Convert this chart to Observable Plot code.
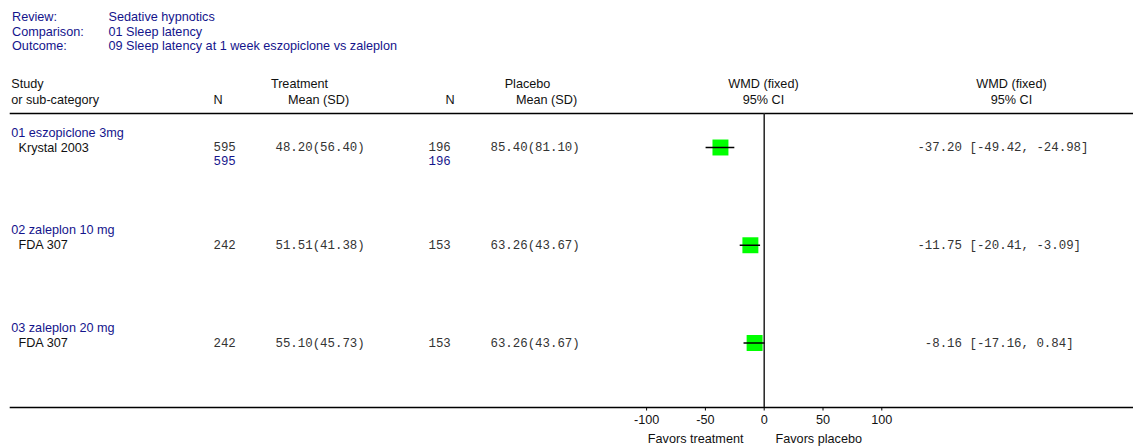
<!DOCTYPE html>
<html>
<head>
<meta charset="utf-8">
<script src="https://cdn.jsdelivr.net/npm/d3@7"></script>
<script src="https://cdn.jsdelivr.net/npm/@observablehq/plot@0.6"></script>
<style>
  html, body { margin: 0; padding: 0; background: #fff; }
</style>
</head>
<body>
<div id="chart"></div>
<script>
// ---- data ----
const titleLabels = ["Review:", "Comparison:", "Outcome:"];
const titleValues = ["Sedative hypnotics", "01 Sleep latency", "09 Sleep latency at 1 week eszopiclone vs zaleplon"];

const groups   = ["01 eszopiclone 3mg", "02 zaleplon 10 mg", "03 zaleplon 20 mg"];
const studies  = ["Krystal 2003", "FDA 307", "FDA 307"];
const trtN     = [595, 242, 242];
const trtMean  = [48.20, 51.51, 55.10];
const trtSD    = [56.40, 41.38, 45.73];
const plaN     = [196, 153, 153];
const plaMean  = [85.40, 63.26, 63.26];
const plaSD    = [81.10, 43.67, 43.67];
const wmd      = [-37.20, -11.75, -8.16];
const ciLow    = [-49.42, -20.41, -17.16];
const ciHigh   = [-24.98, -3.09, 0.84];
const subTotalTrt = [595, null, null];
const subTotalPla = [196, null, null];
const xTicks   = [-100, -50, 0, 50, 100];
const favorLabels = ["Favors treatment", "Favors placebo"];

// ---- build table ----
const rows = studies.map((s, i) => ({
  i, group: groups[i], study: s,
  tN: trtN[i], tMS: `${trtMean[i].toFixed(2)}(${trtSD[i].toFixed(2)})`,
  pN: plaN[i], pMS: `${plaMean[i].toFixed(2)}(${plaSD[i].toFixed(2)})`,
  est: wmd[i], lo: ciLow[i], hi: ciHigh[i],
  subT: subTotalTrt[i], subP: subTotalPla[i]
}));

const SANS = "Liberation Sans, Arial, Helvetica, sans-serif";
const MONO = "Liberation Mono, Courier New, monospace";
const FS = 12.67, MFS = 12.4, TFS = 12.67;
const BLUE = "#14148c", INK = "#111", GREY = "#333";
const ML = 10, MT = 113;

const hdr = (txt, xCenter, yc, anchor = "middle") =>
  Plot.text([txt], {frameAnchor: "top-left", dx: xCenter - ML, dy: yc - MT,
    text: d => d, textAnchor: anchor, lineAnchor: "middle", fontSize: FS, fontFamily: SANS, fill: INK});

const col = (data, xpx, text, opts = {}) =>
  Plot.text(data, {y: "i", frameAnchor: "left", dx: xpx - ML, text, textAnchor: "start",
    lineAnchor: "middle", fontSize: FS, fontFamily: SANS, fill: INK, ...opts});

const titleY = [16, 31, 45.5];
const marks = [];
titleLabels.forEach((t, k) => {
  marks.push(Plot.text([t], {frameAnchor: "top-left", dx: 1.5, dy: titleY[k] - MT, text: d => d,
    textAnchor: "start", lineAnchor: "middle", fontSize: TFS, fontFamily: SANS, fill: BLUE}));
  marks.push(Plot.text([titleValues[k]], {frameAnchor: "top-left", dx: 98, dy: titleY[k] - MT, text: d => d,
    textAnchor: "start", lineAnchor: "middle", fontSize: TFS, fontFamily: SANS, fill: BLUE}));
});

// column headers
marks.push(
  hdr("Study", 10.7, 83, "start"), hdr("or sub-category", 10.7, 99, "start"),
  hdr("Treatment", 299, 83), hdr("N", 213, 99, "start"), hdr("Mean (SD)", 318, 99),
  hdr("Placebo", 527, 83), hdr("N", 445, 99, "start"), hdr("Mean (SD)", 546, 99),
  hdr("WMD (fixed)", 763, 83), hdr("95% CI", 763, 99),
  hdr("WMD (fixed)", 1011, 83), hdr("95% CI", 1011, 99)
);

marks.push(
  Plot.frame({anchor: "top", stroke: "#000", strokeWidth: 1.6}),
  Plot.frame({anchor: "bottom", stroke: "#000", strokeWidth: 1.6}),
  Plot.ruleX([0], {stroke: "#222", strokeWidth: 1.5}),
  // table columns
  col(rows, 10.7, "group", {dy: -15, fill: BLUE}),
  col(rows, 18, "study"),
  col(rows, 213, d => String(d.tN), {fontFamily: MONO, fontSize: MFS, fill: GREY}),
  col(rows, 275, "tMS", {fontFamily: MONO, fontSize: MFS, fill: GREY}),
  col(rows, 428, d => String(d.pN), {fontFamily: MONO, fontSize: MFS, fill: GREY}),
  col(rows, 490, "pMS", {fontFamily: MONO, fontSize: MFS, fill: GREY}),
  col(rows.filter(d => d.subT != null), 213, d => String(d.subT), {dy: 14, fontFamily: MONO, fontSize: MFS, fill: BLUE}),
  col(rows.filter(d => d.subP != null), 428, d => String(d.subP), {dy: 14, fontFamily: MONO, fontSize: MFS, fill: BLUE}),
  col(rows, 961.5, d => d.est.toFixed(2), {textAnchor: "end", fontFamily: MONO, fontSize: MFS, fill: GREY}),
  col(rows, 969, d => `[${d.lo.toFixed(2)}, ${d.hi.toFixed(2)}]`, {fontFamily: MONO, fontSize: MFS, fill: GREY}),
  // forest plot
  Plot.dot(rows, {x: "est", y: "i", symbol: "square", r: 9, fill: "#00ff00", stroke: "none"}),
  Plot.ruleY(rows, {y: "i", x1: "lo", x2: "hi", stroke: "#000", strokeWidth: 1.5}),
  Plot.axisX({ticks: xTicks, tickFormat: d => String(d), tickSize: 3.5, tickPadding: 4,
    fontSize: FS, fontFamily: SANS, fill: INK, stroke: "#000", label: null}),
  Plot.text([favorLabels[0]], {x: 0, frameAnchor: "bottom", dx: -20.7, dy: 438.5 - 407, text: d => d,
    textAnchor: "end", lineAnchor: "middle", fontSize: FS, fontFamily: SANS, fill: INK}),
  Plot.text([favorLabels[1]], {x: 0, frameAnchor: "bottom", dx: 11.3, dy: 438.5 - 407, text: d => d,
    textAnchor: "start", lineAnchor: "middle", fontSize: FS, fontFamily: SANS, fill: INK})
);

const chart = Plot.plot({
  width: 1133, height: 447,
  marginLeft: ML, marginRight: 0, marginTop: MT, marginBottom: 40,
  x: {domain: [-100, 100], range: [646.1, 881.3]},
  y: {type: "linear", domain: [0, 2], range: [147, 342.5], axis: null},
  style: {fontFamily: SANS, background: "#fff", overflow: "visible"},
  marks
});
document.getElementById("chart").appendChild(chart);
</script>
</body>
</html>
